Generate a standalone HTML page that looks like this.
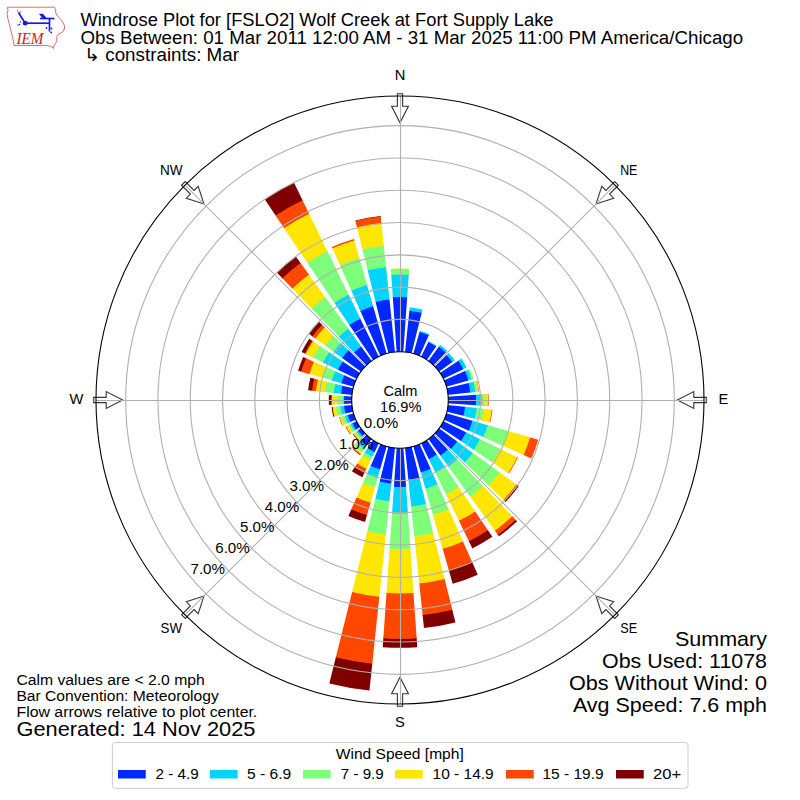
<!DOCTYPE html>
<html><head><meta charset="utf-8">
<style>
html,body{margin:0;padding:0;background:#fff;width:800px;height:800px;overflow:hidden}
svg{display:block}
text{font-family:"Liberation Sans",sans-serif;fill:#000}
</style></head><body>
<svg width="800" height="800" viewBox="0 0 800 800">
<rect width="800" height="800" fill="#fff"/>
<!-- logo -->
<g>
<path d="M7.5,7.2 L54.5,7.2 L55.5,10 L56,14 L58.5,17 L62,21 L64.5,25.5 L64.5,29 L62.5,32 L58,34.5 L56.5,37.5 L57,41 L55,44 L54,46 L53.5,48.5 L52,47 L47,45.5 L14,45.5 L13.5,42 L12.5,37 L11,31 L9.5,25 L8,19 L7,14 L8,11 Z" fill="none" stroke="#d44" stroke-width="0.8"/>
<text x="16.5" y="44" font-family="Liberation Serif" font-style="italic" font-size="16.5" style="font-family:'Liberation Serif',serif;fill:#d02020" textLength="27" lengthAdjust="spacingAndGlyphs">IEM</text>
<g stroke="#1a1adc" stroke-width="1.7" fill="none">
<line x1="25.2" y1="23.2" x2="49.8" y2="23.2"/>
<line x1="25.2" y1="23.2" x2="18.5" y2="12.5"/>
<line x1="49.5" y1="18.2" x2="49.5" y2="31.5"/>
<line x1="40" y1="18.5" x2="54.5" y2="18.5"/>
</g>
<circle cx="25.2" cy="23.2" r="2.4" fill="#1a1adc"/>
<path d="M38.8,13.8 L43,13.8 L47,18.8 L43,18.8 Z" fill="#1a1adc"/>
<circle cx="46.5" cy="28" r="0.9" fill="#1a1adc"/>
<circle cx="51.5" cy="28.5" r="0.9" fill="#1a1adc"/>
<circle cx="51.2" cy="32.5" r="0.9" fill="#1a1adc"/>
<circle cx="19.5" cy="24.5" r="0.8" fill="#1a1adc"/>
<circle cx="20.5" cy="22" r="0.7" fill="#1a1adc"/>
<circle cx="18" cy="25" r="0.7" fill="#1a1adc"/>
<line x1="18" y1="12" x2="17.5" y2="10.5" stroke="#1a1adc" stroke-width="0.8"/>
<line x1="19.8" y1="13" x2="21" y2="11.5" stroke="#1a1adc" stroke-width="0.8"/>
</g>
<!-- title -->
<g font-size="17.6">
<text x="80.5" y="25.75" textLength="473" lengthAdjust="spacingAndGlyphs">Windrose Plot for [FSLO2] Wolf Creek at Fort Supply Lake</text>
<text x="80.5" y="43.75" textLength="662.6" lengthAdjust="spacingAndGlyphs">Obs Between: 01 Mar 2011 12:00 AM - 31 Mar 2025 11:00 PM America/Chicago</text>
<text x="84" y="61.25" textLength="155" lengthAdjust="spacingAndGlyphs">↳ constraints: Mar</text>
</g>
<!-- arrows -->
<g fill="none" stroke="#333" stroke-width="1.1" stroke-linejoin="miter">
<path d="M-2.60,-306.30 L2.60,-306.30 L2.60,-293.80 L8.40,-293.80 L0.00,-277.30 L-8.40,-293.80 L-2.60,-293.80 Z" transform="translate(400 400) rotate(0)"/>
<path d="M-2.60,-306.30 L2.60,-306.30 L2.60,-293.80 L8.40,-293.80 L0.00,-277.30 L-8.40,-293.80 L-2.60,-293.80 Z" transform="translate(400 400) rotate(45)"/>
<path d="M-2.60,-306.30 L2.60,-306.30 L2.60,-293.80 L8.40,-293.80 L0.00,-277.30 L-8.40,-293.80 L-2.60,-293.80 Z" transform="translate(400 400) rotate(90)"/>
<path d="M-2.60,-306.30 L2.60,-306.30 L2.60,-293.80 L8.40,-293.80 L0.00,-277.30 L-8.40,-293.80 L-2.60,-293.80 Z" transform="translate(400 400) rotate(135)"/>
<path d="M-2.60,-306.30 L2.60,-306.30 L2.60,-293.80 L8.40,-293.80 L0.00,-277.30 L-8.40,-293.80 L-2.60,-293.80 Z" transform="translate(400 400) rotate(180)"/>
<path d="M-2.60,-306.30 L2.60,-306.30 L2.60,-293.80 L8.40,-293.80 L0.00,-277.30 L-8.40,-293.80 L-2.60,-293.80 Z" transform="translate(400 400) rotate(225)"/>
<path d="M-2.60,-306.30 L2.60,-306.30 L2.60,-293.80 L8.40,-293.80 L0.00,-277.30 L-8.40,-293.80 L-2.60,-293.80 Z" transform="translate(400 400) rotate(270)"/>
<path d="M-2.60,-306.30 L2.60,-306.30 L2.60,-293.80 L8.40,-293.80 L0.00,-277.30 L-8.40,-293.80 L-2.60,-293.80 Z" transform="translate(400 400) rotate(315)"/>
</g>
<!-- bars -->
<g>
<path d="M390.88,269.57L390.83,268.82A131.50,131.50 0 0 1 409.17,268.82L409.12,269.57A130.75,130.75 0 0 0 390.88,269.57Z" fill="#ffe600"/>
<path d="M391.29,275.40L390.84,269.07A131.25,131.25 0 0 1 409.16,269.07L408.71,275.40A124.90,124.90 0 0 0 391.29,275.40Z" fill="#7dff7a"/>
<path d="M392.86,297.85L391.25,274.91A125.40,125.40 0 0 1 408.75,274.91L407.14,297.85A102.40,102.40 0 0 0 392.86,297.85Z" fill="#00d4ff"/>
<path d="M396.70,352.82L392.82,297.35A102.90,102.90 0 0 1 407.18,297.35L403.30,352.82A47.30,47.30 0 0 0 396.70,352.82Z" fill="#0028ff"/>
<path d="M409.33,311.19L409.74,307.31A93.20,93.20 0 0 1 422.55,309.57L421.60,313.35A89.30,89.30 0 0 0 409.33,311.19Z" fill="#00d4ff"/>
<path d="M404.94,352.96L409.39,310.69A89.80,89.80 0 0 1 421.72,312.87L411.44,354.11A47.30,47.30 0 0 0 404.94,352.96Z" fill="#0028ff"/>
<path d="M419.38,332.42L419.85,330.79A72.00,72.00 0 0 1 429.29,334.22L428.59,335.78A70.30,70.30 0 0 0 419.38,332.42Z" fill="#00d4ff"/>
<path d="M413.04,354.53L419.52,331.94A70.80,70.80 0 0 1 428.80,335.32L419.24,356.79A47.30,47.30 0 0 0 413.04,354.53Z" fill="#0028ff"/>
<path d="M428.06,342.48L428.71,341.13A65.50,65.50 0 0 1 436.63,345.70L435.79,346.94A64.00,64.00 0 0 0 428.06,342.48Z" fill="#00d4ff"/>
<path d="M420.73,357.49L428.27,342.03A64.50,64.50 0 0 1 436.07,346.53L426.45,360.79A47.30,47.30 0 0 0 420.73,357.49Z" fill="#0028ff"/>
<path d="M438.44,347.09L440.09,344.83A68.20,68.20 0 0 1 447.38,350.94L445.43,352.96A65.40,65.40 0 0 0 438.44,347.09Z" fill="#00d4ff"/>
<path d="M427.80,361.73L438.74,346.69A65.90,65.90 0 0 1 445.78,352.60L432.86,365.98A47.30,47.30 0 0 0 427.80,361.73Z" fill="#0028ff"/>
<path d="M446.18,355.40L448.77,352.90A67.80,67.80 0 0 1 454.85,360.15L451.94,362.26A64.20,64.20 0 0 0 446.18,355.40Z" fill="#00d4ff"/>
<path d="M434.02,367.14L446.54,355.06A64.70,64.70 0 0 1 452.34,361.97L438.27,372.20A47.30,47.30 0 0 0 434.02,367.14Z" fill="#0028ff"/>
<path d="M457.95,360.91L461.35,358.62A74.00,74.00 0 0 1 466.51,367.56L462.83,369.36A69.90,69.90 0 0 0 457.95,360.91Z" fill="#00d4ff"/>
<path d="M439.21,373.55L458.36,360.63A70.40,70.40 0 0 1 463.28,369.14L442.51,379.27A47.30,47.30 0 0 0 439.21,373.55Z" fill="#0028ff"/>
<path d="M467.42,369.98L469.89,368.88A76.50,76.50 0 0 1 473.54,378.91L470.94,379.66A73.80,73.80 0 0 0 467.42,369.98Z" fill="#7dff7a"/>
<path d="M464.50,371.28L467.88,369.78A74.30,74.30 0 0 1 471.42,379.52L467.87,380.54A70.60,70.60 0 0 0 464.50,371.28Z" fill="#00d4ff"/>
<path d="M443.21,380.76L464.95,371.08A71.10,71.10 0 0 1 468.35,380.40L445.47,386.96A47.30,47.30 0 0 0 443.21,380.76Z" fill="#0028ff"/>
<path d="M476.27,380.98L477.14,380.77A79.50,79.50 0 0 1 479.06,391.69L478.17,391.78A78.60,78.60 0 0 0 476.27,380.98Z" fill="#ff4700"/>
<path d="M474.81,381.35L476.75,380.86A79.10,79.10 0 0 1 478.67,391.73L476.68,391.94A77.10,77.10 0 0 0 474.81,381.35Z" fill="#ffe600"/>
<path d="M472.87,381.83L475.29,381.23A77.60,77.60 0 0 1 477.17,391.89L474.69,392.15A75.10,75.10 0 0 0 472.87,381.83Z" fill="#7dff7a"/>
<path d="M468.11,383.02L473.35,381.71A75.60,75.60 0 0 1 475.19,392.10L469.82,392.66A70.20,70.20 0 0 0 468.11,383.02Z" fill="#00d4ff"/>
<path d="M445.89,388.56L468.60,382.90A70.70,70.70 0 0 1 470.31,392.61L447.04,395.06A47.30,47.30 0 0 0 445.89,388.56Z" fill="#0028ff"/>
<path d="M487.29,393.90L488.53,393.81A88.75,88.75 0 0 1 488.53,406.19L487.29,406.10A87.50,87.50 0 0 0 487.29,393.90Z" fill="#ff4700"/>
<path d="M484.04,394.12L487.79,393.86A88.00,88.00 0 0 1 487.79,406.14L484.04,405.88A84.25,84.25 0 0 0 484.04,394.12Z" fill="#ffe600"/>
<path d="M481.30,394.31L484.54,394.09A84.75,84.75 0 0 1 484.54,405.91L481.30,405.69A81.50,81.50 0 0 0 481.30,394.31Z" fill="#7dff7a"/>
<path d="M475.32,394.73L481.80,394.28A82.00,82.00 0 0 1 481.80,405.72L475.32,405.27A75.50,75.50 0 0 0 475.32,394.73Z" fill="#00d4ff"/>
<path d="M447.18,396.70L475.81,394.70A76.00,76.00 0 0 1 475.81,405.30L447.18,403.30A47.30,47.30 0 0 0 447.18,396.70Z" fill="#0028ff"/>
<path d="M491.30,409.60L492.49,409.72A93.00,93.00 0 0 1 490.24,422.50L489.07,422.21A91.80,91.80 0 0 0 491.30,409.60Z" fill="#ff4700"/>
<path d="M483.04,408.73L491.79,409.65A92.30,92.30 0 0 1 489.56,422.33L481.02,420.20A83.50,83.50 0 0 0 483.04,408.73Z" fill="#ffe600"/>
<path d="M476.18,408.01L483.54,408.78A84.00,84.00 0 0 1 481.50,420.32L474.32,418.53A76.60,76.60 0 0 0 476.18,408.01Z" fill="#7dff7a"/>
<path d="M464.54,406.78L476.68,408.06A77.10,77.10 0 0 1 474.81,418.65L462.97,415.70A64.90,64.90 0 0 0 464.54,406.78Z" fill="#00d4ff"/>
<path d="M447.04,404.94L465.04,406.84A65.40,65.40 0 0 1 463.46,415.82L445.89,411.44A47.30,47.30 0 0 0 447.04,404.94Z" fill="#0028ff"/>
<path d="M529.58,437.16L538.23,439.64A143.80,143.80 0 0 1 531.37,458.49L523.15,454.83A134.80,134.80 0 0 0 529.58,437.16Z" fill="#ff4700"/>
<path d="M507.85,430.93L530.06,437.29A135.30,135.30 0 0 1 523.60,455.03L502.50,445.64A112.20,112.20 0 0 0 507.85,430.93Z" fill="#ffe600"/>
<path d="M487.19,425.00L508.33,431.06A112.70,112.70 0 0 1 502.96,445.84L482.86,436.89A90.70,90.70 0 0 0 487.19,425.00Z" fill="#7dff7a"/>
<path d="M471.90,420.62L487.67,425.14A91.20,91.20 0 0 1 483.32,437.09L468.33,430.42A74.80,74.80 0 0 0 471.90,420.62Z" fill="#00d4ff"/>
<path d="M445.47,413.04L472.38,420.76A75.30,75.30 0 0 1 468.79,430.63L443.21,419.24A47.30,47.30 0 0 0 445.47,413.04Z" fill="#0028ff"/>
<path d="M516.84,456.99L518.01,457.56A131.30,131.30 0 0 1 508.85,473.42L507.77,472.70A130.00,130.00 0 0 0 516.84,456.99Z" fill="#ff4700"/>
<path d="M499.59,448.57L517.29,457.21A130.50,130.50 0 0 1 508.19,472.97L491.86,461.96A110.80,110.80 0 0 0 499.59,448.57Z" fill="#ffe600"/>
<path d="M479.45,438.75L500.04,448.79A111.30,111.30 0 0 1 492.27,462.24L473.29,449.43A88.40,88.40 0 0 0 479.45,438.75Z" fill="#7dff7a"/>
<path d="M465.61,432.00L479.90,438.97A88.90,88.90 0 0 1 473.70,449.71L460.52,440.82A73.00,73.00 0 0 0 465.61,432.00Z" fill="#00d4ff"/>
<path d="M442.51,420.73L466.06,432.22A73.50,73.50 0 0 1 460.93,441.10L439.21,426.45A47.30,47.30 0 0 0 442.51,420.73Z" fill="#0028ff"/>
<path d="M516.90,484.93L518.76,486.29A146.80,146.80 0 0 1 505.60,501.98L503.94,500.38A144.50,144.50 0 0 0 516.90,484.93Z" fill="#800000"/>
<path d="M515.93,484.23L517.31,485.23A145.00,145.00 0 0 1 504.30,500.73L503.08,499.54A143.30,143.30 0 0 0 515.93,484.23Z" fill="#ff4700"/>
<path d="M499.10,472.00L516.34,484.52A143.80,143.80 0 0 1 503.44,499.89L488.12,485.10A122.50,122.50 0 0 0 499.10,472.00Z" fill="#ffe600"/>
<path d="M472.41,452.61L499.51,472.30A123.00,123.00 0 0 1 488.48,485.44L464.38,462.17A89.50,89.50 0 0 0 472.41,452.61Z" fill="#7dff7a"/>
<path d="M456.79,441.26L472.81,452.90A90.00,90.00 0 0 1 464.74,462.52L450.50,448.77A70.20,70.20 0 0 0 456.79,441.26Z" fill="#00d4ff"/>
<path d="M438.27,427.80L457.20,441.56A70.70,70.70 0 0 1 450.86,449.11L434.02,432.86A47.30,47.30 0 0 0 438.27,427.80Z" fill="#0028ff"/>
<path d="M515.31,519.41L517.05,521.21A168.50,168.50 0 0 1 499.04,536.32L497.57,534.30A166.00,166.00 0 0 0 515.31,519.41Z" fill="#800000"/>
<path d="M511.84,515.81L515.66,519.77A166.50,166.50 0 0 1 497.87,534.70L494.63,530.25A161.00,161.00 0 0 0 511.84,515.81Z" fill="#ff4700"/>
<path d="M482.66,485.60L512.19,516.17A161.50,161.50 0 0 1 494.93,530.66L469.95,496.27A119.00,119.00 0 0 0 482.66,485.60Z" fill="#ffe600"/>
<path d="M456.89,458.91L483.01,485.96A119.50,119.50 0 0 1 470.24,496.68L448.14,466.26A81.90,81.90 0 0 0 456.89,458.91Z" fill="#7dff7a"/>
<path d="M447.38,449.06L457.24,459.27A82.40,82.40 0 0 1 448.43,466.66L440.09,455.17A68.20,68.20 0 0 0 447.38,449.06Z" fill="#00d4ff"/>
<path d="M432.86,434.02L447.72,449.42A68.70,68.70 0 0 1 440.38,455.58L427.80,438.27A47.30,47.30 0 0 0 432.86,434.02Z" fill="#0028ff"/>
<path d="M487.57,529.83L492.32,536.87A165.10,165.10 0 0 1 472.38,548.39L468.65,540.75A156.60,156.60 0 0 0 487.57,529.83Z" fill="#800000"/>
<path d="M474.88,511.01L487.85,530.24A157.10,157.10 0 0 1 468.87,541.20L458.70,520.35A133.90,133.90 0 0 0 474.88,511.01Z" fill="#ff4700"/>
<path d="M458.44,486.63L475.16,511.42A134.40,134.40 0 0 1 458.92,520.80L445.81,493.92A104.50,104.50 0 0 0 458.44,486.63Z" fill="#ffe600"/>
<path d="M444.74,466.32L458.72,487.05A105.00,105.00 0 0 1 446.03,494.37L435.07,471.90A80.00,80.00 0 0 0 444.74,466.32Z" fill="#7dff7a"/>
<path d="M436.52,454.14L445.02,466.74A80.50,80.50 0 0 1 435.29,472.35L428.63,458.69A65.30,65.30 0 0 0 436.52,454.14Z" fill="#00d4ff"/>
<path d="M426.45,439.21L436.79,454.55A65.80,65.80 0 0 1 428.84,459.14L420.73,442.51A47.30,47.30 0 0 0 426.45,439.21Z" fill="#0028ff"/>
<path d="M471.91,561.51L477.77,574.67A191.20,191.20 0 0 1 452.70,583.79L448.73,569.95A176.80,176.80 0 0 0 471.91,561.51Z" fill="#800000"/>
<path d="M462.76,540.96L472.11,561.97A177.30,177.30 0 0 1 448.87,570.43L442.53,548.32A154.30,154.30 0 0 0 462.76,540.96Z" fill="#ff4700"/>
<path d="M448.40,508.71L462.96,541.42A154.80,154.80 0 0 1 442.67,548.80L432.80,514.39A119.00,119.00 0 0 0 448.40,508.71Z" fill="#ffe600"/>
<path d="M437.34,483.86L448.61,509.17A119.50,119.50 0 0 1 432.94,514.87L425.30,488.24A91.80,91.80 0 0 0 437.34,483.86Z" fill="#7dff7a"/>
<path d="M430.38,468.24L437.54,484.32A92.30,92.30 0 0 1 425.44,488.72L420.59,471.81A74.70,74.70 0 0 0 430.38,468.24Z" fill="#00d4ff"/>
<path d="M419.24,443.21L430.59,468.70A75.20,75.20 0 0 1 420.73,472.29L413.04,445.47A47.30,47.30 0 0 0 419.24,443.21Z" fill="#0028ff"/>
<path d="M452.18,609.29L455.45,622.39A229.20,229.20 0 0 1 423.96,627.94L422.55,614.52A215.70,215.70 0 0 0 452.18,609.29Z" fill="#800000"/>
<path d="M444.49,578.44L452.30,609.78A216.20,216.20 0 0 1 422.60,615.02L419.22,582.89A183.90,183.90 0 0 0 444.49,578.44Z" fill="#ff4700"/>
<path d="M433.05,532.54L444.61,578.92A184.40,184.40 0 0 1 419.28,583.39L414.28,535.85A136.60,136.60 0 0 0 433.05,532.54Z" fill="#ffe600"/>
<path d="M425.79,503.43L433.17,533.03A137.10,137.10 0 0 1 414.33,536.35L411.14,506.02A106.60,106.60 0 0 0 425.79,503.43Z" fill="#7dff7a"/>
<path d="M419.28,477.33L425.91,503.92A107.10,107.10 0 0 1 411.19,506.51L408.33,479.26A79.70,79.70 0 0 0 419.28,477.33Z" fill="#00d4ff"/>
<path d="M411.44,445.89L419.40,477.82A80.20,80.20 0 0 1 408.38,479.76L404.94,447.04A47.30,47.30 0 0 0 411.44,445.89Z" fill="#0028ff"/>
<path d="M416.62,637.72L417.29,647.20A247.80,247.80 0 0 1 382.71,647.20L383.38,637.72A238.30,238.30 0 0 0 416.62,637.72Z" fill="#800000"/>
<path d="M413.46,592.53L416.66,638.22A238.80,238.80 0 0 1 383.34,638.22L386.54,592.53A193.00,193.00 0 0 0 413.46,592.53Z" fill="#ff4700"/>
<path d="M410.36,548.14L413.50,593.03A193.50,193.50 0 0 1 386.50,593.03L389.64,548.14A148.50,148.50 0 0 0 410.36,548.14Z" fill="#ffe600"/>
<path d="M407.88,512.72L410.39,548.64A149.00,149.00 0 0 1 389.61,548.64L392.12,512.72A113.00,113.00 0 0 0 407.88,512.72Z" fill="#7dff7a"/>
<path d="M406.03,486.29L407.92,513.22A113.50,113.50 0 0 1 392.08,513.22L393.97,486.29A86.50,86.50 0 0 0 406.03,486.29Z" fill="#00d4ff"/>
<path d="M403.30,447.18L406.07,486.79A87.00,87.00 0 0 1 393.93,486.79L396.70,447.18A47.30,47.30 0 0 0 403.30,447.18Z" fill="#0028ff"/>
<path d="M372.33,663.25L369.47,690.50A292.10,292.10 0 0 1 329.33,683.42L335.96,656.84A264.70,264.70 0 0 0 372.33,663.25Z" fill="#800000"/>
<path d="M379.38,596.22L372.28,663.75A265.20,265.20 0 0 1 335.84,657.32L352.27,591.44A197.30,197.30 0 0 0 379.38,596.22Z" fill="#ff4700"/>
<path d="M385.92,533.96L379.32,596.72A197.80,197.80 0 0 1 352.15,591.92L367.41,530.70A134.70,134.70 0 0 0 385.92,533.96Z" fill="#ffe600"/>
<path d="M389.41,500.75L385.87,534.46A135.20,135.20 0 0 1 367.29,531.18L375.49,498.29A101.30,101.30 0 0 0 389.41,500.75Z" fill="#7dff7a"/>
<path d="M391.28,482.94L389.36,501.24A101.80,101.80 0 0 1 375.37,498.78L379.82,480.92A83.40,83.40 0 0 0 391.28,482.94Z" fill="#00d4ff"/>
<path d="M395.06,447.04L391.23,483.44A83.90,83.90 0 0 1 379.70,481.41L388.56,445.89A47.30,47.30 0 0 0 395.06,447.04Z" fill="#0028ff"/>
<path d="M367.14,514.58L364.99,522.08A127.00,127.00 0 0 1 348.34,516.02L351.52,508.89A119.20,119.20 0 0 0 367.14,514.58Z" fill="#800000"/>
<path d="M370.70,502.18L367.01,515.06A119.70,119.70 0 0 1 351.31,509.35L356.76,497.11A106.30,106.30 0 0 0 370.70,502.18Z" fill="#ff4700"/>
<path d="M375.17,486.61L370.56,502.66A106.80,106.80 0 0 1 356.56,497.57L363.35,482.31A90.10,90.10 0 0 0 375.17,486.61Z" fill="#ffe600"/>
<path d="M377.81,477.38L375.03,487.09A90.60,90.60 0 0 1 363.15,482.77L367.26,473.54A80.50,80.50 0 0 0 377.81,477.38Z" fill="#7dff7a"/>
<path d="M380.29,468.73L377.67,477.86A81.00,81.00 0 0 1 367.05,474.00L370.92,465.32A71.50,71.50 0 0 0 380.29,468.73Z" fill="#00d4ff"/>
<path d="M386.96,445.47L380.15,469.21A72.00,72.00 0 0 1 370.71,465.78L380.76,443.21A47.30,47.30 0 0 0 386.96,445.47Z" fill="#0028ff"/>
<path d="M364.93,471.90L362.30,477.30A86.00,86.00 0 0 1 351.91,471.30L355.26,466.32A80.00,80.00 0 0 0 364.93,471.90Z" fill="#800000"/>
<path d="M366.68,468.31L364.71,472.35A80.50,80.50 0 0 1 354.98,466.74L357.50,463.01A76.00,76.00 0 0 0 366.68,468.31Z" fill="#ff4700"/>
<path d="M370.85,459.77L366.46,468.76A76.50,76.50 0 0 1 357.22,463.42L362.81,455.13A66.50,66.50 0 0 0 370.85,459.77Z" fill="#ffe600"/>
<path d="M372.60,456.17L370.63,460.22A67.00,67.00 0 0 1 362.53,455.55L365.05,451.81A62.50,62.50 0 0 0 372.60,456.17Z" fill="#7dff7a"/>
<path d="M374.79,451.68L372.38,456.62A63.00,63.00 0 0 1 364.77,452.23L367.85,447.67A57.50,57.50 0 0 0 374.79,451.68Z" fill="#00d4ff"/>
<path d="M379.27,442.51L374.57,452.13A58.00,58.00 0 0 1 367.57,448.08L373.55,439.21A47.30,47.30 0 0 0 379.27,442.51Z" fill="#0028ff"/>
<path d="M360.62,454.20L360.03,455.01A68.00,68.00 0 0 1 352.76,448.92L353.46,448.20A67.00,67.00 0 0 0 360.62,454.20Z" fill="#800000"/>
<path d="M361.03,453.64L360.32,454.61A67.50,67.50 0 0 1 353.11,448.56L353.94,447.69A66.30,66.30 0 0 0 361.03,453.64Z" fill="#ff4700"/>
<path d="M362.50,451.62L360.74,454.04A66.80,66.80 0 0 1 353.60,448.05L355.68,445.89A63.80,63.80 0 0 0 362.50,451.62Z" fill="#ffe600"/>
<path d="M364.73,448.54L362.21,452.02A64.30,64.30 0 0 1 355.33,446.25L358.32,443.16A60.00,60.00 0 0 0 364.73,448.54Z" fill="#7dff7a"/>
<path d="M367.08,445.30L364.44,448.95A60.50,60.50 0 0 1 357.97,443.52L361.10,440.28A56.00,56.00 0 0 0 367.08,445.30Z" fill="#00d4ff"/>
<path d="M372.20,438.27L366.79,445.71A56.50,56.50 0 0 1 360.75,440.64L367.14,434.02A47.30,47.30 0 0 0 372.20,438.27Z" fill="#0028ff"/>
<path d="M358.64,439.94L358.06,440.50A58.30,58.30 0 0 1 352.83,434.27L353.48,433.80A57.50,57.50 0 0 0 358.64,439.94Z" fill="#800000"/>
<path d="M359.14,439.46L358.28,440.29A58.00,58.00 0 0 1 353.08,434.09L354.05,433.39A56.80,56.80 0 0 0 359.14,439.46Z" fill="#ff4700"/>
<path d="M360.44,438.21L358.78,439.80A57.30,57.30 0 0 1 353.64,433.68L355.50,432.33A55.00,55.00 0 0 0 360.44,438.21Z" fill="#ffe600"/>
<path d="M361.66,437.03L360.08,438.55A55.50,55.50 0 0 1 355.10,432.62L356.88,431.33A53.30,53.30 0 0 0 361.66,437.03Z" fill="#7dff7a"/>
<path d="M362.95,435.77L361.30,437.37A53.80,53.80 0 0 1 356.47,431.62L358.34,430.27A51.50,51.50 0 0 0 362.95,435.77Z" fill="#00d4ff"/>
<path d="M365.98,432.86L362.59,436.12A52.00,52.00 0 0 1 357.93,430.56L361.73,427.80A47.30,47.30 0 0 0 365.98,432.86Z" fill="#0028ff"/>
<path d="M350.42,433.44L349.76,433.89A60.60,60.60 0 0 1 345.53,426.57L346.25,426.21A59.80,59.80 0 0 0 350.42,433.44Z" fill="#800000"/>
<path d="M350.67,433.27L350.01,433.72A60.30,60.30 0 0 1 345.80,426.43L346.52,426.08A59.50,59.50 0 0 0 350.67,433.27Z" fill="#ff4700"/>
<path d="M352.99,431.71L350.26,433.55A60.00,60.00 0 0 1 346.07,426.30L349.04,424.86A56.70,56.70 0 0 0 352.99,431.71Z" fill="#ffe600"/>
<path d="M354.82,430.48L352.58,431.99A57.20,57.20 0 0 1 348.59,425.07L351.02,423.89A54.50,54.50 0 0 0 354.82,430.48Z" fill="#7dff7a"/>
<path d="M356.48,429.36L354.40,430.76A55.00,55.00 0 0 1 350.57,424.11L352.81,423.01A52.50,52.50 0 0 0 356.48,429.36Z" fill="#00d4ff"/>
<path d="M360.79,426.45L356.06,429.64A53.00,53.00 0 0 1 352.36,423.23L357.49,420.73A47.30,47.30 0 0 0 360.79,426.45Z" fill="#0028ff"/>
<path d="M342.90,425.42L342.36,425.67A63.10,63.10 0 0 1 339.34,417.39L339.92,417.23A62.50,62.50 0 0 0 342.90,425.42Z" fill="#800000"/>
<path d="M343.09,425.34L342.45,425.62A63.00,63.00 0 0 1 339.44,417.37L340.11,417.17A62.30,62.30 0 0 0 343.09,425.34Z" fill="#ff4700"/>
<path d="M345.55,424.24L342.63,425.54A62.80,62.80 0 0 1 339.63,417.31L342.71,416.43A59.60,59.60 0 0 0 345.55,424.24Z" fill="#ffe600"/>
<path d="M348.20,423.06L345.10,424.44A60.10,60.10 0 0 1 342.23,416.57L345.50,415.63A56.70,56.70 0 0 0 348.20,423.06Z" fill="#7dff7a"/>
<path d="M350.85,421.88L347.75,423.27A57.20,57.20 0 0 1 345.02,415.77L348.28,414.83A53.80,53.80 0 0 0 350.85,421.88Z" fill="#00d4ff"/>
<path d="M356.79,419.24L350.39,422.09A54.30,54.30 0 0 1 347.80,414.97L354.53,413.04A47.30,47.30 0 0 0 356.79,419.24Z" fill="#0028ff"/>
<path d="M334.70,416.28L333.24,416.64A68.80,68.80 0 0 1 331.58,407.19L333.07,407.03A67.30,67.30 0 0 0 334.70,416.28Z" fill="#800000"/>
<path d="M334.89,416.23L334.21,416.40A67.80,67.80 0 0 1 332.57,407.09L333.27,407.01A67.10,67.10 0 0 0 334.89,416.23Z" fill="#ff4700"/>
<path d="M338.00,415.46L334.41,416.35A67.60,67.60 0 0 1 332.77,407.07L336.45,406.68A63.90,63.90 0 0 0 338.00,415.46Z" fill="#ffe600"/>
<path d="M342.27,414.39L337.51,415.58A64.40,64.40 0 0 1 335.95,406.73L340.83,406.22A59.50,59.50 0 0 0 342.27,414.39Z" fill="#7dff7a"/>
<path d="M345.95,413.48L341.78,414.52A60.00,60.00 0 0 1 340.33,406.27L344.61,405.82A55.70,55.70 0 0 0 345.95,413.48Z" fill="#00d4ff"/>
<path d="M354.11,411.44L345.47,413.60A56.20,56.20 0 0 1 344.11,405.87L352.96,404.94A47.30,47.30 0 0 0 354.11,411.44Z" fill="#0028ff"/>
<path d="M332.27,404.74L328.92,404.97A71.25,71.25 0 0 1 328.92,395.03L332.27,395.26A67.90,67.90 0 0 0 332.27,404.74Z" fill="#800000"/>
<path d="M332.27,404.74L331.77,404.77A68.40,68.40 0 0 1 331.77,395.23L332.27,395.26A67.90,67.90 0 0 0 332.27,404.74Z" fill="#ff4700"/>
<path d="M337.55,404.37L331.77,404.77A68.40,68.40 0 0 1 331.77,395.23L337.55,395.63A62.60,62.60 0 0 0 337.55,404.37Z" fill="#ffe600"/>
<path d="M343.74,403.93L337.05,404.40A63.10,63.10 0 0 1 337.05,395.60L343.74,396.07A56.40,56.40 0 0 0 343.74,403.93Z" fill="#7dff7a"/>
<path d="M344.73,403.86L343.24,403.97A56.90,56.90 0 0 1 343.24,396.03L344.73,396.14A55.40,55.40 0 0 0 344.73,403.86Z" fill="#00d4ff"/>
<path d="M352.82,403.30L344.24,403.90A55.90,55.90 0 0 1 344.24,396.10L352.82,396.70A47.30,47.30 0 0 0 352.82,403.30Z" fill="#0028ff"/>
<path d="M312.68,390.82L308.11,390.34A92.40,92.40 0 0 1 310.34,377.65L314.81,378.76A87.80,87.80 0 0 0 312.68,390.82Z" fill="#800000"/>
<path d="M316.46,391.22L312.18,390.77A88.30,88.30 0 0 1 314.32,378.64L318.50,379.68A84.00,84.00 0 0 0 316.46,391.22Z" fill="#ff4700"/>
<path d="M325.31,392.15L315.96,391.17A84.50,84.50 0 0 1 318.01,379.56L327.13,381.83A75.10,75.10 0 0 0 325.31,392.15Z" fill="#ffe600"/>
<path d="M334.26,393.09L324.81,392.10A75.60,75.60 0 0 1 326.65,381.71L335.86,384.01A66.10,66.10 0 0 0 334.26,393.09Z" fill="#7dff7a"/>
<path d="M341.52,393.85L333.76,393.04A66.60,66.60 0 0 1 335.38,383.89L342.95,385.77A58.80,58.80 0 0 0 341.52,393.85Z" fill="#00d4ff"/>
<path d="M352.96,395.06L341.02,393.80A59.30,59.30 0 0 1 342.46,385.65L354.11,388.56A47.30,47.30 0 0 0 352.96,395.06Z" fill="#0028ff"/>
<path d="M301.66,371.80L298.11,370.78A106.00,106.00 0 0 1 303.16,356.89L306.54,358.39A102.30,102.30 0 0 0 301.66,371.80Z" fill="#800000"/>
<path d="M309.93,374.17L301.18,371.66A102.80,102.80 0 0 1 306.09,358.19L314.40,361.89A93.70,93.70 0 0 0 309.93,374.17Z" fill="#ff4700"/>
<path d="M322.43,377.76L309.45,374.03A94.20,94.20 0 0 1 313.94,361.69L326.28,367.18A80.70,80.70 0 0 0 322.43,377.76Z" fill="#ffe600"/>
<path d="M332.33,380.60L321.95,377.62A81.20,81.20 0 0 1 325.82,366.97L335.69,371.37A70.40,70.40 0 0 0 332.33,380.60Z" fill="#7dff7a"/>
<path d="M341.84,383.32L331.85,380.46A70.90,70.90 0 0 1 335.23,371.16L344.73,375.39A60.50,60.50 0 0 0 341.84,383.32Z" fill="#00d4ff"/>
<path d="M354.53,386.96L341.36,383.19A61.00,61.00 0 0 1 344.27,375.19L356.79,380.76A47.30,47.30 0 0 0 354.53,386.96Z" fill="#0028ff"/>
<path d="M305.36,353.84L301.58,352.00A109.50,109.50 0 0 1 309.22,338.77L312.70,341.12A105.30,105.30 0 0 0 305.36,353.84Z" fill="#800000"/>
<path d="M306.17,354.23L304.91,353.62A105.80,105.80 0 0 1 312.29,340.84L313.45,341.62A104.40,104.40 0 0 0 306.17,354.23Z" fill="#ff4700"/>
<path d="M313.36,357.74L305.72,354.01A104.90,104.90 0 0 1 313.03,341.34L320.08,346.09A96.40,96.40 0 0 0 313.36,357.74Z" fill="#ffe600"/>
<path d="M323.51,362.69L312.91,357.52A96.90,96.90 0 0 1 319.67,345.81L329.45,352.41A85.10,85.10 0 0 0 323.51,362.69Z" fill="#7dff7a"/>
<path d="M338.43,369.97L323.06,362.48A85.60,85.60 0 0 1 329.03,352.13L343.21,361.70A68.50,68.50 0 0 0 338.43,369.97Z" fill="#00d4ff"/>
<path d="M357.49,379.27L337.98,369.75A69.00,69.00 0 0 1 342.80,361.42L360.79,373.55A47.30,47.30 0 0 0 357.49,379.27Z" fill="#0028ff"/>
<path d="M312.87,336.70L308.99,333.87A112.50,112.50 0 0 1 319.07,321.85L322.53,325.19A107.70,107.70 0 0 0 312.87,336.70Z" fill="#800000"/>
<path d="M315.78,338.81L312.46,336.40A108.20,108.20 0 0 1 322.17,324.84L325.12,327.69A104.10,104.10 0 0 0 315.78,338.81Z" fill="#ff4700"/>
<path d="M325.49,345.86L315.38,338.52A104.60,104.60 0 0 1 324.76,327.34L333.75,336.02A92.10,92.10 0 0 0 325.49,345.86Z" fill="#ffe600"/>
<path d="M333.90,351.98L325.09,345.57A92.60,92.60 0 0 1 333.39,335.67L341.23,343.25A81.70,81.70 0 0 0 333.90,351.98Z" fill="#7dff7a"/>
<path d="M342.56,358.27L333.50,351.68A82.20,82.20 0 0 1 340.87,342.90L348.93,350.68A71.00,71.00 0 0 0 342.56,358.27Z" fill="#00d4ff"/>
<path d="M361.73,372.20L342.16,357.97A71.50,71.50 0 0 1 348.57,350.33L365.98,367.14A47.30,47.30 0 0 0 361.73,372.20Z" fill="#0028ff"/>
<path d="M282.81,278.65L277.05,272.68A177.00,177.00 0 0 1 295.96,256.80L300.84,263.52A168.70,168.70 0 0 0 282.81,278.65Z" fill="#800000"/>
<path d="M292.74,288.93L282.46,278.29A169.20,169.20 0 0 1 300.55,263.11L309.25,275.09A154.40,154.40 0 0 0 292.74,288.93Z" fill="#ff4700"/>
<path d="M311.92,308.79L292.40,288.57A154.90,154.90 0 0 1 308.95,274.68L325.47,297.42A126.80,126.80 0 0 0 311.92,308.79Z" fill="#ffe600"/>
<path d="M339.22,337.06L311.57,308.43A127.30,127.30 0 0 1 325.17,297.01L348.57,329.21A87.50,87.50 0 0 0 339.22,337.06Z" fill="#7dff7a"/>
<path d="M354.50,352.88L338.87,336.70A88.00,88.00 0 0 1 348.27,328.81L361.50,347.01A65.50,65.50 0 0 0 354.50,352.88Z" fill="#00d4ff"/>
<path d="M367.14,365.98L354.15,352.52A66.00,66.00 0 0 1 361.21,346.60L372.20,361.73A47.30,47.30 0 0 0 367.14,365.98Z" fill="#0028ff"/>
<path d="M275.97,216.12L264.84,199.62A241.70,241.70 0 0 1 294.05,182.76L302.77,200.65A221.80,221.80 0 0 0 275.97,216.12Z" fill="#800000"/>
<path d="M284.36,228.56L275.69,215.70A222.30,222.30 0 0 1 302.55,200.20L309.34,214.13A206.80,206.80 0 0 0 284.36,228.56Z" fill="#ff4700"/>
<path d="M307.79,263.29L284.08,228.14A207.30,207.30 0 0 1 309.13,213.68L327.71,251.79A164.90,164.90 0 0 0 307.79,263.29Z" fill="#ffe600"/>
<path d="M334.85,303.42L307.51,262.88A165.40,165.40 0 0 1 327.49,251.34L348.93,295.29A116.50,116.50 0 0 0 334.85,303.42Z" fill="#7dff7a"/>
<path d="M349.67,325.39L334.57,303.00A117.00,117.00 0 0 1 348.71,294.84L360.55,319.11A90.00,90.00 0 0 0 349.67,325.39Z" fill="#00d4ff"/>
<path d="M373.55,360.79L349.39,324.97A90.50,90.50 0 0 1 360.33,318.66L379.27,357.49A47.30,47.30 0 0 0 373.55,360.79Z" fill="#0028ff"/>
<path d="M332.69,248.81L331.91,247.07A167.40,167.40 0 0 1 353.86,239.08L354.38,240.91A165.50,165.50 0 0 0 332.69,248.81Z" fill="#ff4700"/>
<path d="M340.17,265.62L332.48,248.35A166.00,166.00 0 0 1 354.24,240.43L359.45,258.60A147.10,147.10 0 0 0 340.17,265.62Z" fill="#ffe600"/>
<path d="M351.56,291.20L339.97,265.16A147.60,147.60 0 0 1 359.32,258.12L367.17,285.51A119.10,119.10 0 0 0 351.56,291.20Z" fill="#7dff7a"/>
<path d="M360.55,311.39L351.35,290.74A119.60,119.60 0 0 1 367.03,285.03L373.26,306.76A97.00,97.00 0 0 0 360.55,311.39Z" fill="#00d4ff"/>
<path d="M380.76,356.79L360.34,310.93A97.50,97.50 0 0 1 373.13,306.28L386.96,354.53A47.30,47.30 0 0 0 380.76,356.79Z" fill="#0028ff"/>
<path d="M355.46,221.37L355.24,220.50A185.00,185.00 0 0 1 380.66,216.01L380.76,216.91A184.10,184.10 0 0 0 355.46,221.37Z" fill="#800000"/>
<path d="M357.06,227.77L355.34,220.88A184.60,184.60 0 0 1 380.70,216.41L381.45,223.47A177.50,177.50 0 0 0 357.06,227.77Z" fill="#ff4700"/>
<path d="M362.62,250.09L356.94,227.29A178.00,178.00 0 0 1 381.39,222.98L383.85,246.35A154.50,154.50 0 0 0 362.62,250.09Z" fill="#ffe600"/>
<path d="M367.80,270.85L362.50,249.60A155.00,155.00 0 0 1 383.80,245.85L386.09,267.63A133.10,133.10 0 0 0 367.80,270.85Z" fill="#7dff7a"/>
<path d="M375.69,302.49L367.68,270.37A133.60,133.60 0 0 1 386.03,267.13L389.49,300.05A100.50,100.50 0 0 0 375.69,302.49Z" fill="#00d4ff"/>
<path d="M388.56,354.11L375.57,302.00A101.00,101.00 0 0 1 389.44,299.55L395.06,352.96A47.30,47.30 0 0 0 388.56,354.11Z" fill="#0028ff"/>
</g>
<!-- grid -->
<g fill="none" stroke="#b0b0b0" stroke-width="1.1">
<circle cx="400" cy="400" r="80.59"/>
<circle cx="400" cy="400" r="112.88"/>
<circle cx="400" cy="400" r="145.17"/>
<circle cx="400" cy="400" r="177.46"/>
<circle cx="400" cy="400" r="209.75"/>
<circle cx="400" cy="400" r="242.04"/>
<circle cx="400" cy="400" r="274.33"/>
<line x1="400.50" y1="351.70" x2="400.50" y2="96.00"/>
<line x1="434.15" y1="365.85" x2="614.96" y2="185.04"/>
<line x1="448.30" y1="400.50" x2="704.00" y2="400.50"/>
<line x1="434.15" y1="434.15" x2="614.96" y2="614.96"/>
<line x1="400.50" y1="448.30" x2="400.50" y2="704.00"/>
<line x1="365.85" y1="434.15" x2="185.04" y2="614.96"/>
<line x1="351.70" y1="400.50" x2="96.00" y2="400.50"/>
<line x1="365.85" y1="365.85" x2="185.04" y2="185.04"/>
</g>
<circle cx="400" cy="400" r="304" fill="none" stroke="#000" stroke-width="1.1"/>
<circle cx="400" cy="400" r="48.3" fill="#fff" stroke="#000" stroke-width="1.1"/>
<g font-size="14.7">
<text x="400.00" y="80.30" text-anchor="middle">N</text>
<text x="628.75" y="175.05" text-anchor="middle" textLength="17.2" lengthAdjust="spacingAndGlyphs">NE</text>
<text x="723.50" y="403.80" text-anchor="middle">E</text>
<text x="628.75" y="632.55" text-anchor="middle" textLength="17.0" lengthAdjust="spacingAndGlyphs">SE</text>
<text x="400.00" y="727.30" text-anchor="middle">S</text>
<text x="171.25" y="632.55" text-anchor="middle" textLength="21.5" lengthAdjust="spacingAndGlyphs">SW</text>
<text x="76.50" y="403.80" text-anchor="middle">W</text>
<text x="171.25" y="175.05" text-anchor="middle" textLength="22.6" lengthAdjust="spacingAndGlyphs">NW</text>
<text x="381.00" y="427.75" text-anchor="middle" textLength="34.5" lengthAdjust="spacingAndGlyphs">0.0%</text>
<text x="356.25" y="448.69" text-anchor="middle" textLength="34.5" lengthAdjust="spacingAndGlyphs">1.0%</text>
<text x="331.50" y="469.63" text-anchor="middle" textLength="34.5" lengthAdjust="spacingAndGlyphs">2.0%</text>
<text x="306.75" y="490.57" text-anchor="middle" textLength="34.5" lengthAdjust="spacingAndGlyphs">3.0%</text>
<text x="282.00" y="511.51" text-anchor="middle" textLength="34.5" lengthAdjust="spacingAndGlyphs">4.0%</text>
<text x="257.25" y="532.45" text-anchor="middle" textLength="34.5" lengthAdjust="spacingAndGlyphs">5.0%</text>
<text x="232.50" y="553.39" text-anchor="middle" textLength="34.5" lengthAdjust="spacingAndGlyphs">6.0%</text>
<text x="207.75" y="574.33" text-anchor="middle" textLength="34.5" lengthAdjust="spacingAndGlyphs">7.0%</text>
<text x="400.5" y="395.5" text-anchor="middle" textLength="34" lengthAdjust="spacingAndGlyphs">Calm</text>
<text x="400.75" y="412" text-anchor="middle" textLength="41.5" lengthAdjust="spacingAndGlyphs">16.9%</text>
</g>
<!-- bottom left notes -->
<g font-size="14.7">
<text x="16.45" y="685.2" textLength="188.35" lengthAdjust="spacingAndGlyphs">Calm values are &lt; 2.0 mph</text>
<text x="16.45" y="701.3" textLength="202.3" lengthAdjust="spacingAndGlyphs">Bar Convention: Meteorology</text>
<text x="16.45" y="717" textLength="240.85" lengthAdjust="spacingAndGlyphs">Flow arrows relative to plot center.</text>
</g>
<text x="16.45" y="736.3" font-size="20.6" textLength="239" lengthAdjust="spacingAndGlyphs">Generated: 14 Nov 2025</text>
<!-- summary -->
<g font-size="20.6" text-anchor="end">
<text x="767" y="646.4" textLength="92.1" lengthAdjust="spacingAndGlyphs">Summary</text>
<text x="767" y="668" textLength="165" lengthAdjust="spacingAndGlyphs">Obs Used: 11078</text>
<text x="767" y="689.6" textLength="198" lengthAdjust="spacingAndGlyphs">Obs Without Wind: 0</text>
<text x="767" y="711.5" textLength="194.1" lengthAdjust="spacingAndGlyphs">Avg Speed: 7.6 mph</text>
</g>
<!-- legend -->
<rect x="112.4" y="742.5" width="575.6" height="45.8" rx="3" ry="3" fill="#fff" stroke="#cccccc" stroke-width="1"/>
<g font-size="14.7">
<text x="335.75" y="758.75" textLength="128" lengthAdjust="spacingAndGlyphs">Wind Speed [mph]</text>
<rect x="118" y="770" width="27.75" height="8.5" fill="#0028ff"/>
<text x="155.5" y="779.25" textLength="43.1" lengthAdjust="spacingAndGlyphs">2 - 4.9</text>
<rect x="209.9" y="770" width="27.75" height="8.5" fill="#00d4ff"/>
<text x="247" y="779.25" textLength="44.2" lengthAdjust="spacingAndGlyphs">5 - 6.9</text>
<rect x="303" y="770" width="27.75" height="8.5" fill="#7dff7a"/>
<text x="340.75" y="779.25" textLength="43" lengthAdjust="spacingAndGlyphs">7 - 9.9</text>
<rect x="395" y="770" width="27.75" height="8.5" fill="#ffe600"/>
<text x="432.5" y="779.25" textLength="61.25" lengthAdjust="spacingAndGlyphs">10 - 14.9</text>
<rect x="506" y="770" width="27.75" height="8.5" fill="#ff4700"/>
<text x="542.5" y="779.25" textLength="61.1" lengthAdjust="spacingAndGlyphs">15 - 19.9</text>
<rect x="616" y="770" width="27.75" height="8.5" fill="#800000"/>
<text x="653.1" y="779.25" textLength="28.15" lengthAdjust="spacingAndGlyphs">20+</text>
</g>
</svg>
</body></html>
